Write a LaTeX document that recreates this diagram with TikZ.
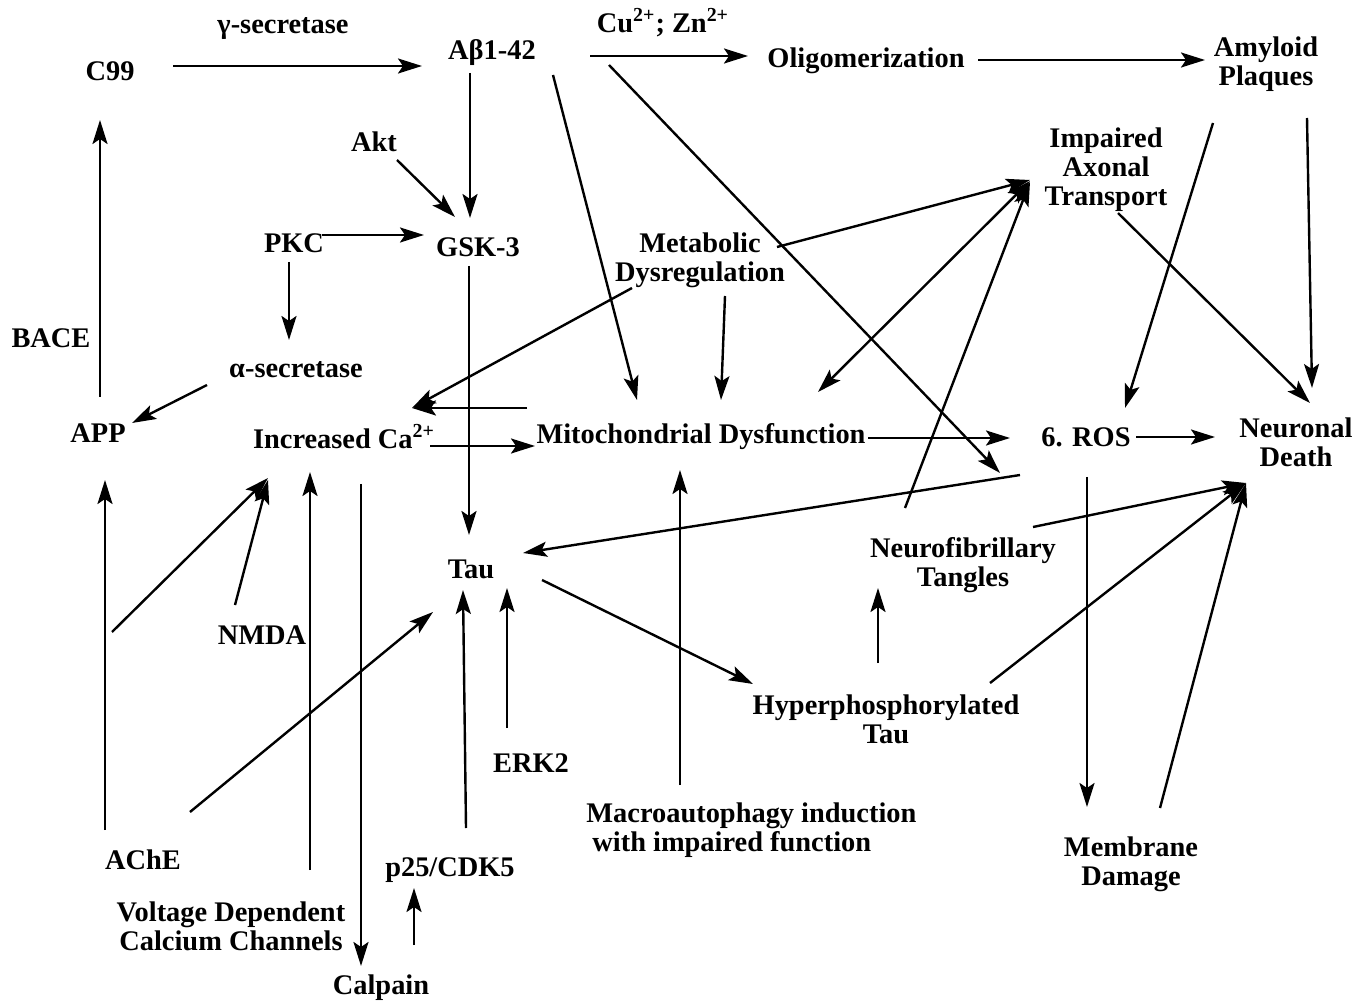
\documentclass[tikz,border=0pt]{standalone}
\usepackage{fontspec}
\setmainfont{Liberation Serif}
\usetikzlibrary{arrows.meta}
\begin{document}
\begin{tikzpicture}[x=0.5pt,y=-0.5pt,
 lbl/.style={inner sep=0pt, font=\fontsize{14.2}{14.5}\selectfont\bfseries, align=center, text height=9.4pt, text depth=0pt},
 mlbl/.style={inner sep=0pt, font=\fontsize{14.2}{14.5}\selectfont\bfseries, align=center},
 arr/.style={line width=1.2pt, -{Stealth[length=12pt,width=7.5pt,inset=2.5pt]}},
 dbl/.style={line width=1.2pt, {Stealth[length=12pt,width=7.5pt,inset=2.5pt]}-{Stealth[length=12pt,width=7.5pt,inset=2.5pt]}}]
\useasboundingbox (0,0) rectangle (1371,1005);
% nodes
\node[lbl] (gsec) at (283,24) {γ-secretase};
\node[lbl] (c99) at (110,71) {C99};
\node[lbl] (ab) at (492,50) {Aβ1-42};
\node[lbl] (cuzn) at (663,23) {Cu\textsuperscript{2+}; Zn\textsuperscript{2+}};
\node[lbl] (olig) at (866,58) {Oligomerization};
\node[mlbl] (amy) at (1266,64) {Amyloid\\Plaques};
\node[lbl] (akt) at (374,142) {Akt};
\node[mlbl] (iat) at (1106,170) {Impaired\\Axonal\\Transport};
\node[lbl] (pkc) at (294,243) {PKC};
\node[lbl] (gsk) at (478,247) {GSK-3};
\node[mlbl] (meta) at (700,260) {Metabolic\\Dysregulation};
\node[lbl] (bace) at (51,338) {BACE};
\node[lbl] (asec) at (296,368) {α-secretase};
\node[lbl] (app) at (98,433) {APP};
\node[lbl] (ca) at (344,439) {Increased Ca\textsuperscript{2+}};
\node[lbl] (mito) at (701,434) {Mitochondrial Dysfunction};
\node[lbl] (ros) at (1086,437) {6. ROS};
\node[mlbl] (nd) at (1296,442) {Neuronal\\Death};
\node[lbl] (tau) at (471,569) {Tau};
\node[mlbl] (nft) at (963,565) {Neurofibrillary\\Tangles};
\node[lbl] (nmda) at (262,635) {NMDA};
\node[mlbl] (hpt) at (886,719) {Hyperphosphorylated\\Tau};
\node[lbl] (erk) at (531,763) {ERK2};
\node[mlbl, anchor=west, align=left] (macro) at (586,830) {Macroautophagy induction\\\hspace*{3pt}with impaired function};
\node[lbl] (ache) at (143,860) {AChE};
\node[lbl] (p25) at (450,867) {p25/CDK5};
\node[mlbl] (mem) at (1131,864) {Membrane\\Damage};
\node[mlbl] (vdcc) at (231,926) {Voltage Dependent\\Calcium Channels};
\node[lbl] (calp) at (381,985) {Calpain};
\coordinate (br) at (112,632);
% connectors
\draw[arr] ([shift={(63,-5)}]c99.center) -- ([shift={(-70,16)}]ab.center);
\draw[arr] ([shift={(98,6)}]ab.center) -- ([shift={(-118,-2)}]olig.center);
\draw[arr] ([shift={(112,2)}]olig.center) -- ([shift={(-61,-4)}]amy.center);
\draw[arr] ([shift={(-22,23)}]ab.center) -- ([shift={(-8,-29)}]gsk.center);
\draw[arr] ([shift={(23,18)}]akt.center) -- ([shift={(-23,-30)}]gsk.center);
\draw[arr] ([shift={(28,-8)}]pkc.center) -- ([shift={(-54,-12)}]gsk.center);
\draw[arr] ([shift={(-5,19)}]pkc.center) -- ([shift={(-7,-28)}]asec.center);
\draw[arr] ([shift={(-89,17)}]asec.center) -- ([shift={(34,-10)}]app.center);
\draw[arr] ([shift={(2,-36)}]app.center) -- ([shift={(-10,49)}]c99.center);
\draw[arr] ([shift={(-38,-30)}]ache.center) -- ([shift={(7,47)}]app.center);
\draw[arr] (br) -- ([shift={(-76,39)}]ca.center);
\draw[arr] ([shift={(-27,-30)}]nmda.center) -- ([shift={(-76,41)}]ca.center);
\draw[arr] ([shift={(79,-56)}]vdcc.center) -- ([shift={(-34,33)}]ca.center);
\draw[arr] ([shift={(17,45)}]ca.center) -- ([shift={(-20,-19)}]calp.center);
\draw[arr] ([shift={(47,-48)}]ache.center) -- ([shift={(-38,43)}]tau.center);
\draw[arr] ([shift={(16,-39)}]p25.center) -- ([shift={(-8,21)}]tau.center);
\draw[arr] ([shift={(-24,-35)}]erk.center) -- ([shift={(36,19)}]tau.center);
\draw[arr] ([shift={(33,-40)}]calp.center) -- ([shift={(-36,21)}]p25.center);
\draw[arr] ([shift={(-9,19)}]gsk.center) -- ([shift={(-2,-34)}]tau.center);
\draw[arr] ([shift={(61,25)}]ab.center) -- ([shift={(-64,-34)}]mito.center);
\draw[arr] ([shift={(25,36)}]meta.center) -- ([shift={(20,-34)}]mito.center);
\draw[arr] ([shift={(-68,28)}]meta.center) -- ([shift={(68,-31)}]ca.center);
\draw[arr] ([shift={(-174,-26)}]mito.center) -- ([shift={(68,-31)}]ca.center);
\draw[arr] ([shift={(86,7)}]ca.center) -- ([shift={(-166,12)}]mito.center);
\draw[arr] ([shift={(167,4)}]mito.center) -- ([shift={(-76,1)}]ros.center);
\draw[arr] ([shift={(50,0)}]ros.center) -- ([shift={(-81,-5)}]nd.center);
\draw[arr] ([shift={(117,15)}]ab.center) -- ([shift={(-86,36)}]ros.center);
\draw[arr] ([shift={(-66,38)}]ros.center) -- ([shift={(52,-16)}]tau.center);
\draw[arr] ([shift={(-58,-57)}]nft.center) -- ([shift={(-76,12)}]iat.center);
\draw[arr] ([shift={(77,-13)}]meta.center) -- ([shift={(-76,10)}]iat.center);
\draw[dbl] ([shift={(117,-42)}]mito.center) -- ([shift={(-76,11)}]iat.center);
\draw[arr] ([shift={(-53,59)}]amy.center) -- ([shift={(39,-29)}]ros.center);
\draw[arr] ([shift={(41,54)}]amy.center) -- ([shift={(16,-54)}]nd.center);
\draw[arr] ([shift={(12,43)}]iat.center) -- ([shift={(14,-39)}]nd.center);
\draw[arr] ([shift={(1,40)}]ros.center) -- ([shift={(-44,-57)}]mem.center);
\draw[arr] ([shift={(29,-56)}]mem.center) -- ([shift={(-50,41)}]nd.center);
\draw[arr] ([shift={(104,-36)}]hpt.center) -- ([shift={(-50,41)}]nd.center);
\draw[arr] ([shift={(70,-38)}]nft.center) -- ([shift={(-50,41)}]nd.center);
\draw[arr] ([shift={(-8,-56)}]hpt.center) -- ([shift={(-85,23)}]nft.center);
\draw[arr] ([shift={(71,11)}]tau.center) -- ([shift={(-133,-35)}]hpt.center);
\draw[arr] ([shift={(94,-45)}]macro.west) -- ([shift={(-21,36)}]mito.center);
\end{tikzpicture}
\end{document}
